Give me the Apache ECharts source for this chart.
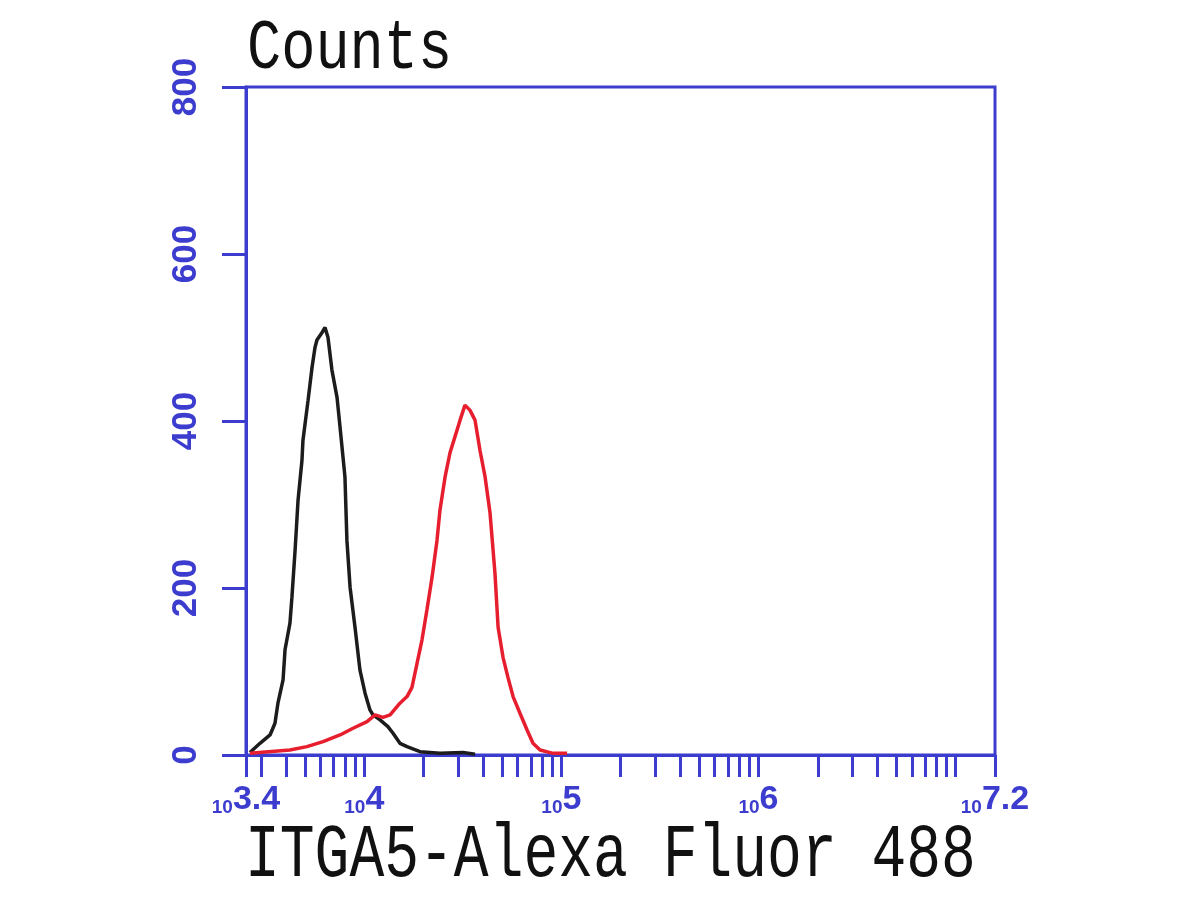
<!DOCTYPE html>
<html><head><meta charset="utf-8">
<script src="https://cdn.jsdelivr.net/npm/echarts@6/dist/echarts.min.js"></script>
<style>html,body{margin:0;padding:0;background:#fff}#c{width:1200px;height:900px}</style>
</head><body><div id="c"></div>
<script>
// x values are log10 of fluorescence intensity, y values are counts
const blackX = [3.420,3.471,3.522,3.547,3.562,3.588,3.598,3.623,3.633,3.649,3.664,3.684,3.689,3.715,3.735,3.750,3.760,3.786,3.801,3.816,3.836,3.862,3.877,3.902,3.912,3.928,3.953,3.978,4.004,4.029,4.044,4.080,4.120,4.146,4.181,4.217,4.283,4.384,4.501,4.562];
const blackY = [3,14,24,38,62,90,126,158,189,245,305,353,377,425,464,488,497,506,512,500,461,428,393,333,257,201,153,102,74,54,48,42,34,26,14,10,4,2,3,1];
const redX = [3.420,3.623,3.709,3.791,3.877,3.943,4.014,4.055,4.095,4.131,4.181,4.217,4.242,4.268,4.293,4.318,4.344,4.369,4.384,4.410,4.435,4.460,4.486,4.511,4.536,4.562,4.587,4.613,4.638,4.663,4.679,4.704,4.729,4.755,4.790,4.826,4.856,4.892,4.958,5.029];
const redY = [2,6,10,16,24,32,40,48,45,48,62,70,81,110,138,174,213,257,293,333,362,381,401,419,413,401,365,333,290,218,153,117,93,70,50,30,14,6,2,2];
const xLabelExps = [3.4, 4, 5, 6, 7.2];
const xTickRaw = [3000,4000,5000,6000,7000,8000,9000,10000,20000,30000,40000,50000,60000,70000,80000,90000,100000,200000,300000,400000,500000,600000,700000,800000,900000,1000000,2000000,3000000,4000000,5000000,6000000,7000000,8000000,9000000,10000000];
const yTicks = [0,200,400,600,800];
const yTitle = 'Counts';
const xTitle = 'ITGA5-Alexa Fluor 488';

const BLUE = '#3c3cce';
const xTickVals = [3.4].concat(xTickRaw.map(v => Math.log10(v))).concat([7.2]);
const zip = (a, b) => a.map((v, i) => [v, b[i]]);

const chart = echarts.init(document.getElementById('c'), null, {renderer: 'canvas'});
chart.setOption({
  animation: false,
  backgroundColor: '#ffffff',
  grid: {left: 246, top: 87, width: 749, height: 668, containLabel: false, outerBoundsMode: 'none',
         show: true, borderColor: BLUE, borderWidth: 3, backgroundColor: 'transparent'},
  xAxis: {
    type: 'value', min: 3.4, max: 7.2,
    splitLine: {show: false},
    axisLine: {show: true, onZero: false, lineStyle: {color: BLUE, width: 3}},
    axisTick: {show: true, inside: false, length: 22, lineStyle: {color: BLUE, width: 3}, customValues: xTickVals},
    axisLabel: {
      customValues: xLabelExps, margin: 28, showMinLabel: true, showMaxLabel: true,
      formatter: v => '{b|10}{e|' + (Math.round(v * 10) / 10) + '}',
      rich: {
        b: {fontFamily: 'Liberation Sans', fontSize: 19, fontWeight: 'bold', color: BLUE, lineHeight: 8, verticalAlign: 'bottom'},
        e: {fontFamily: 'Liberation Sans', fontSize: 34, fontWeight: 'bold', color: BLUE, lineHeight: 34, verticalAlign: 'top'}
      }
    }
  },
  yAxis: {
    type: 'value', min: 0, max: 800, interval: 200,
    splitLine: {show: false},
    axisLine: {show: true, lineStyle: {color: BLUE, width: 3}},
    axisTick: {show: true, inside: false, length: 24, lineStyle: {color: BLUE, width: 3}, customValues: yTicks},
    axisLabel: {rotate: 90, margin: 42, fontFamily: 'Liberation Sans', fontSize: 35, fontWeight: 'bold', color: BLUE,
                customValues: yTicks, showMinLabel: true, showMaxLabel: true}
  },
  series: [
    {type: 'line', data: zip(blackX, blackY), showSymbol: false, symbol: 'none',
     lineStyle: {color: '#1c1c1c', width: 3.5}, z: 3},
    {type: 'line', data: zip(redX, redY), showSymbol: false, symbol: 'none',
     lineStyle: {color: '#e61e2e', width: 3.5}, z: 4}
  ],
  graphic: [
    {type: 'text', x: 247, y: 84, scaleY: 1.22,
     style: {text: yTitle, fontFamily: 'Liberation Mono', fontSize: 57, fill: '#111', verticalAlign: 'bottom', align: 'left'}},
    {type: 'text', x: 245, y: 894, scaleY: 1.3,
     style: {text: xTitle, fontFamily: 'Liberation Mono', fontSize: 58, fill: '#111', verticalAlign: 'bottom', align: 'left'}}
  ]
});
</script></body></html>
